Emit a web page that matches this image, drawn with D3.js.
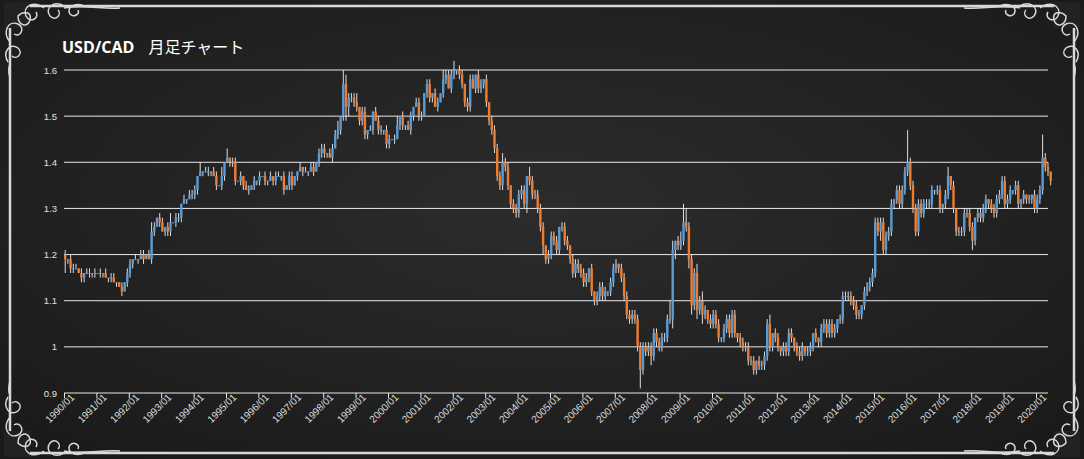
<!DOCTYPE html>
<html><head><meta charset="utf-8">
<script src="https://cdn.jsdelivr.net/npm/d3@7"></script>
<style>body{margin:0;background:#1e1e1e}</style>
</head><body><div class="canvas"></div>
<script>
// Monthly closes, one row per year (1990..2020)
const years = d3.range(1990, 2021);
const closes = [
 [1.19,1.19,1.17,1.17,1.17,1.16,1.15,1.16,1.16,1.16,1.16,1.16],
 [1.16,1.16,1.16,1.15,1.15,1.15,1.14,1.14,1.13,1.12,1.14,1.16],
 [1.18,1.19,1.19,1.19,1.20,1.19,1.20,1.19,1.25,1.26,1.28,1.27],
 [1.25,1.26,1.25,1.27,1.27,1.28,1.28,1.31,1.32,1.32,1.33,1.33],
 [1.34,1.37,1.38,1.38,1.38,1.38,1.38,1.37,1.35,1.35,1.37,1.40],
 [1.41,1.40,1.40,1.36,1.36,1.37,1.35,1.34,1.34,1.35,1.36,1.36],
 [1.37,1.37,1.36,1.36,1.37,1.36,1.37,1.37,1.37,1.34,1.35,1.37],
 [1.35,1.37,1.38,1.39,1.38,1.38,1.38,1.39,1.38,1.40,1.42,1.43],
 [1.42,1.42,1.41,1.43,1.46,1.47,1.50,1.57,1.52,1.54,1.54,1.53],
 [1.52,1.49,1.51,1.46,1.47,1.47,1.51,1.49,1.47,1.47,1.47,1.44],
 [1.45,1.45,1.45,1.48,1.50,1.48,1.48,1.47,1.50,1.52,1.53,1.50],
 [1.50,1.55,1.57,1.54,1.55,1.52,1.53,1.55,1.58,1.59,1.56,1.59],
 [1.60,1.60,1.59,1.57,1.53,1.52,1.58,1.56,1.59,1.56,1.57,1.58],
 [1.53,1.49,1.47,1.43,1.37,1.35,1.40,1.39,1.35,1.31,1.30,1.29],
 [1.33,1.34,1.31,1.37,1.36,1.33,1.33,1.30,1.26,1.22,1.19,1.20],
 [1.24,1.23,1.21,1.26,1.26,1.23,1.22,1.19,1.16,1.18,1.17,1.16],
 [1.14,1.15,1.17,1.12,1.10,1.11,1.13,1.11,1.12,1.12,1.14,1.17],
 [1.18,1.17,1.15,1.11,1.07,1.06,1.07,1.06,1.00,0.95,1.00,0.99],
 [1.00,0.98,1.03,1.01,1.00,1.02,1.02,1.06,1.06,1.21,1.23,1.22],
 [1.23,1.27,1.26,1.19,1.09,1.16,1.08,1.10,1.07,1.08,1.06,1.05],
 [1.07,1.05,1.02,1.02,1.04,1.06,1.03,1.07,1.03,1.02,1.01,1.00],
 [1.00,0.97,0.97,0.95,0.97,0.96,0.96,0.98,1.05,1.00,1.03,1.02],
 [1.00,0.99,1.00,0.99,1.03,1.02,1.00,0.99,0.98,1.00,0.99,0.99],
 [1.00,1.03,1.02,1.01,1.04,1.05,1.03,1.05,1.03,1.04,1.06,1.06],
 [1.11,1.11,1.11,1.10,1.09,1.07,1.07,1.09,1.12,1.13,1.14,1.16],
 [1.27,1.25,1.27,1.21,1.24,1.25,1.31,1.32,1.34,1.31,1.34,1.38],
 [1.40,1.35,1.30,1.25,1.31,1.29,1.31,1.31,1.31,1.34,1.34,1.34],
 [1.30,1.31,1.33,1.37,1.35,1.30,1.25,1.25,1.25,1.29,1.29,1.26],
 [1.23,1.28,1.29,1.28,1.30,1.32,1.31,1.30,1.29,1.32,1.33,1.36],
 [1.31,1.32,1.34,1.34,1.35,1.31,1.32,1.33,1.32,1.32,1.33,1.30],
 [1.32,1.34,1.41,1.39,1.38,1.36]
];
// Upper / lower wick lengths beyond the body, in 0.01 units, per year
const wickUp = [
 "101110101101","010101100101","101011012101","101201101011","102011011020",
 "201101011010","101010110101","100101011011","101112032111","201101011101",
 "101201011011","101101102111","201101110110","101111211011","111021111101",
 "111011101111","110101111011","101111111111","111111114201","243111212101",
 "111011111011","111101111201","101111011101","101011111101","111111101111",
 "111111101111","711111111101","101201011111","101111011111","111011010101",
 "115110"
];
const wickDown = [
 "311100110111","011011010101","110101001101","011101110101","110101101011",
 "011101101011","101101101101","101010101011","110101113211","111110101111",
 "101011101101","101110101101","111111101111","111111111111","111211111211",
 "111111111111","111111111111","111111111411","121111111221","111221212111",
 "111111111111","111111111111","111111111111","111111111111","111111111111",
 "112111111111","111111111111","111111111111","211111111111","111111111111",
 "111111"
];
const yTicks = [0.9, 1, 1.1, 1.2, 1.3, 1.4, 1.5, 1.6];

// Build candles (open = previous month close)
const candles = [];
let prev = 1.20;
closes.forEach((row, yi) => {
    row.forEach((c, m) => {
        const o = prev;
        candles.push({
            i: candles.length, o, c,
            h: Math.max(o, c) + (+wickUp[yi][m]) * 0.01,
            l: Math.min(o, c) - (+wickDown[yi][m]) * 0.01
        });
        prev = c;
    });
});

const W = 1084, H = 459;
const svg = d3.select('.canvas').append('svg').attr('width', W).attr('height', H);

// Chalkboard background
const defs = svg.append('defs');
const rg = defs.append('radialGradient').attr('id', 'bg').attr('cx', '50%').attr('cy', '45%').attr('r', '70%');
rg.append('stop').attr('offset', '0%').attr('stop-color', '#2c2c2c');
rg.append('stop').attr('offset', '100%').attr('stop-color', '#1a1a1a');
svg.append('rect').attr('width', W).attr('height', H).attr('fill', 'url(#bg)');

// Frame
const frame = svg.append('g').attr('fill', 'none').attr('stroke', '#d8d8d8');
frame.append('rect').attr('x', 10).attr('y', 6).attr('width', W - 20).attr('height', H - 12)
    .attr('stroke-width', 2.5);
const corner = (x, y, sx, sy) => {
    const g = frame.append('g').attr('transform', `translate(${x},${y}) scale(${sx},${sy})`)
        .attr('stroke-width', 1.5);
    g.append('rect').attr('x', 0).attr('y', 0).attr('width', 26).attr('height', 26)
        .attr('fill', '#222').attr('stroke', 'none');
    // looping curls along both edges
    g.append('path').attr('d',
        'M6,40 C-2,30 4,18 14,22 C22,26 16,36 10,32 ' +
        'M4,60 C-2,50 6,40 14,46 C20,52 12,58 8,54 ' +
        'M40,6 C30,-2 18,4 22,14 C26,22 36,16 32,10 ' +
        'M60,4 C50,-2 40,6 46,14 C52,20 58,12 54,8 ' +
        'M80,4 C70,0 62,6 66,12 C70,16 76,12 74,8 ' +
        'M14,14 C20,8 28,10 26,18 C24,26 14,24 14,14 Z ' +
        'M60,6 C80,2 100,8 116,6 M6,62 C2,70 8,76 6,82');
};
corner(4, 2, 1, 1); corner(W - 4, 2, -1, 1); corner(4, H - 2, 1, -1); corner(W - 4, H - 2, -1, -1);

// Scales
const x = d3.scaleLinear().domain([0, 360]).range([64, 1036]);
const y = d3.scaleLinear().domain([0.9, 1.6]).range([393, 70]);

// Grid
svg.append('g').selectAll('line').data(yTicks.slice(1)).join('line')
    .attr('x1', 64).attr('x2', 1048).attr('y1', d => y(d)).attr('y2', d => y(d))
    .attr('stroke', '#e8e8e8').attr('stroke-width', 1);
svg.append('g').selectAll('text').data(yTicks).join('text')
    .attr('x', 57).attr('y', d => y(d) + 3.5).attr('text-anchor', 'end')
    .attr('fill', '#e0e0e0').attr('font-size', 9.5).attr('font-family', 'Liberation Sans, sans-serif')
    .text(d => d === 1 ? '1' : d.toFixed(1));

// X axis
const xAxis = svg.append('g').attr('transform', 'translate(0,393)')
    .call(d3.axisBottom(x).tickValues(years.map((d, i) => i * 12)).tickSize(5)
        .tickFormat((d, i) => `${years[i]}/01`));
xAxis.select('.domain').attr('stroke', '#e8e8e8').attr('d', 'M64,0H1048');
xAxis.selectAll('.tick line').attr('stroke', '#e8e8e8');
xAxis.selectAll('text').attr('fill', '#dcdcdc').attr('font-size', 10)
    .attr('font-family', 'Liberation Sans, sans-serif')
    .attr('text-anchor', 'end').attr('dx', '4').attr('dy', '3')
    .attr('transform', 'rotate(-45)');

// Candles
const cw = 2.4;
const g = svg.append('g');
g.selectAll('line.wick').data(candles).join('line').attr('class', 'wick')
    .attr('x1', d => x(d.i) + cw / 2).attr('x2', d => x(d.i) + cw / 2)
    .attr('y1', d => y(d.h)).attr('y2', d => y(d.l))
    .attr('stroke', '#f0f0f0').attr('stroke-width', 0.9);
g.selectAll('rect').data(candles).join('rect')
    .attr('x', d => x(d.i)).attr('width', cw)
    .attr('y', d => y(Math.max(d.o, d.c)))
    .attr('height', d => Math.max(1, Math.abs(y(d.o) - y(d.c))))
    .attr('fill', d => d.c >= d.o ? '#5b9bd5' : '#ed7d31');

// Title
const t = svg.append('text').attr('x', 62).attr('y', 53).attr('fill', '#ffffff').attr('font-size', 16);
t.append('tspan').attr('font-weight', 'bold').attr('font-family', 'Open Sans, sans-serif').text('USD/CAD');
t.append('tspan').attr('dx', 14).attr('font-family', 'Noto Sans CJK JP').text('月足チャート');
</script>
</body></html>
